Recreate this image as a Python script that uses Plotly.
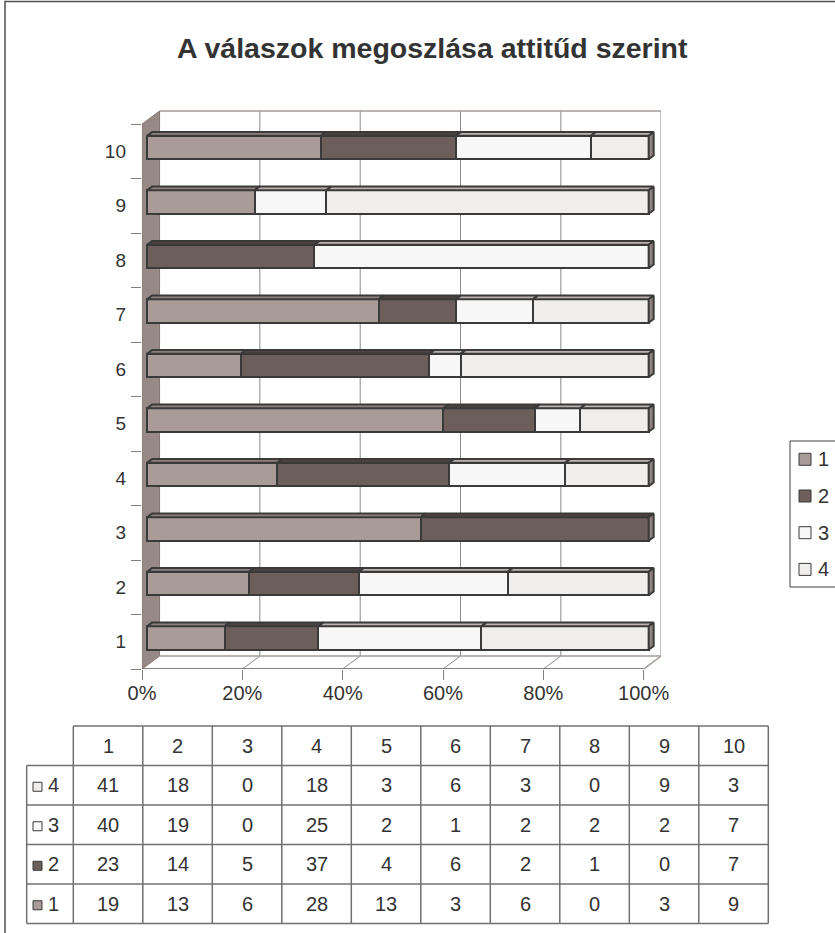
import numpy as np
import plotly.graph_objects as go

# ---- data ----
categories = ["1", "2", "3", "4", "5", "6", "7", "8", "9", "10"]
series_names = ["1", "2", "3", "4"]
series_1 = [19, 13, 6, 28, 13, 3, 6, 0, 3, 9]
series_2 = [23, 14, 5, 37, 4, 6, 2, 1, 0, 7]
series_3 = [40, 19, 0, 25, 2, 1, 2, 2, 2, 7]
series_4 = [41, 18, 0, 18, 3, 6, 3, 0, 9, 3]
percent_ticks = [0, 20, 40, 60, 80, 100]
chart_title = "A válaszok megoszlása attitűd szerint"

# ---- style ----
FONT = "Liberation Sans, Arial, sans-serif"
TEXT = "#333333"
EDGE = "#3a3a3a"
front_colors = ["#a89b98", "#6b5e5b", "#f7f7f7", "#efeeec"]
top_colors = ["#8d807d", "#4e4341", "#bdb3b0", "#bdb3b0"]
side_color = "#8f8380"
wall_color = "#978985"
frame_color = "#a39a97"
grid_color = "#8a8a8a"
FS = 19

W, H = 835, 933
L, R, T, B = 142, 661, 110, 669          # plot area (page pixels)
PX_PER_PCT = 5.016
PX_PER_CAT = 54.5
DX = 17.5 / PX_PER_PCT                     # depth offset in x units
DY = 13.0 / PX_PER_CAT                     # depth offset in category units
D_FRONT = 0.2857                           # depth of bar front faces
D_THICK = 0.2857                           # bar thickness in depth
BAR_W = 0.43


def proj(p, c, d):
    """Oblique projection of (percent, category, depth) into axis units."""
    return p + (d - D_FRONT) * DX, c + (d - D_FRONT) * DY


def px(x):
    return x / W


def py(y):
    return 1 - y / H


x_lo = proj(0, 0, 0)[0] - 0.01
x_hi = x_lo + (R - L) / PX_PER_PCT
y_lo = proj(0, 0.5, 0)[1]
y_hi = y_lo + (B - T) / PX_PER_CAT

cat_pos = np.arange(1, len(categories) + 1, dtype=float)
counts = np.array([series_1, series_2, series_3, series_4], dtype=float)
shares = counts / counts.sum(axis=0) * 100
ends = np.cumsum(shares, axis=0)
starts = ends - shares

fig = go.Figure()

# front faces of the stacked bars
for i, name in enumerate(series_names):
    fig.add_trace(go.Bar(
        y=cat_pos, x=shares[i], base=starts[i], orientation="h", width=BAR_W,
        name=name, marker=dict(color=front_colors[i], line=dict(color=EDGE, width=2)),
        showlegend=False, hoverinfo="skip",
    ))

# top faces of every segment
for i in range(len(series_names)):
    xs, ys = [], []
    for j, c in enumerate(cat_pos):
        if shares[i, j] <= 0:
            continue
        a, b = starts[i, j], ends[i, j]
        top = c + BAR_W / 2
        pts = [(a, top, D_FRONT), (b, top, D_FRONT),
               (b, top, D_FRONT + D_THICK), (a, top, D_FRONT + D_THICK)]
        for p_, c_, d_ in pts + [pts[0]]:
            X, Y = proj(p_, c_, d_)
            xs.append(X)
            ys.append(Y)
        xs.append(None)
        ys.append(None)
    fig.add_trace(go.Scatter(x=xs, y=ys, mode="lines", fill="toself",
                             fillcolor=top_colors[i], line=dict(color=EDGE, width=2),
                             showlegend=False, hoverinfo="skip"))

# right-hand end faces
xs, ys = [], []
for j, c in enumerate(cat_pos):
    e = ends[-1, j]
    lo, hi = c - BAR_W / 2, c + BAR_W / 2
    pts = [(e, lo, D_FRONT), (e, hi, D_FRONT),
           (e, hi, D_FRONT + D_THICK), (e, lo, D_FRONT + D_THICK)]
    for p_, c_, d_ in pts + [pts[0]]:
        X, Y = proj(p_, c_, d_)
        xs.append(X)
        ys.append(Y)
    xs.append(None)
    ys.append(None)
fig.add_trace(go.Scatter(x=xs, y=ys, mode="lines", fill="toself", fillcolor=side_color,
                         line=dict(color=EDGE, width=2), showlegend=False, hoverinfo="skip"))

shapes = []


def path(points):
    s = "M " + " L ".join(f"{x:.4f},{y:.4f}" for x, y in points) + " Z"
    return s


c_lo, c_hi = 0.5, len(categories) + 0.5

# back wall
bw = [proj(0, c_lo, 1), proj(100, c_lo, 1), proj(100, c_hi, 1), proj(0, c_hi, 1)]
shapes.append(dict(type="path", xref="x", yref="y", path=path(bw),
                   fillcolor="white", line=dict(width=0), layer="below"))
# left side wall
lw = [proj(0, c_lo, 0), proj(0, c_hi, 0), proj(0, c_hi, 1), proj(0, c_lo, 1)]
shapes.append(dict(type="path", xref="x", yref="y", path=path(lw),
                   fillcolor=wall_color, line=dict(color="#857773", width=1), layer="below"))
# grid on back wall and floor
for p in percent_ticks[1:-1]:
    for a, b in [(proj(p, c_lo, 1), proj(p, c_hi, 1)), (proj(p, c_lo, 1), proj(p, c_lo, 0))]:
        shapes.append(dict(type="line", xref="x", yref="y", x0=a[0], y0=a[1], x1=b[0], y1=b[1],
                           line=dict(color=grid_color, width=1), layer="below"))
# frame edges of the box
for a, b, col in [
    (proj(0, c_hi, 1), proj(100, c_hi, 1), frame_color),
    (proj(100, c_lo, 1), proj(100, c_hi, 1), frame_color),
    (proj(0, c_lo, 1), proj(100, c_lo, 1), frame_color),
    (proj(100, c_lo, 0), proj(100, c_lo, 1), frame_color),
    (proj(0, c_lo, 0), proj(100, c_lo, 0), "#5a5a5a"),
]:
    shapes.append(dict(type="line", xref="x", yref="y", x0=a[0], y0=a[1], x1=b[0], y1=b[1],
                       line=dict(color=col, width=1.5), layer="below"))

annotations = []


def label(text, x, y, size=FS, xanchor="center", bold=False):
    annotations.append(dict(
        text=f"<b>{text}</b>" if bold else text, x=px(x), y=py(y),
        xref="paper", yref="paper", showarrow=False, xanchor=xanchor, yanchor="middle",
        font=dict(family=FONT, size=size, color=TEXT)))


# title
label(chart_title, 432, 48, size=28.5, bold=True)

# ---- data table below the chart ----
tbl_left, tbl_lab_r, col_w = 26.7, 73.3, 69.5
tbl_top, row_h = 726, 39.5
n_rows = len(series_names) + 1
tbl_right = tbl_lab_r + col_w * len(categories)
tbl_bot = tbl_top + row_h * n_rows
line_col = "#707070"


def pline(x0, y0, x1, y1):
    shapes.append(dict(type="line", xref="paper", yref="paper", x0=px(x0), y0=py(y0),
                       x1=px(x1), y1=py(y1), line=dict(color=line_col, width=1.5)))


pline(tbl_lab_r, tbl_top, tbl_right, tbl_top)
for r in range(1, n_rows + 1):
    y = tbl_top + r * row_h
    pline(tbl_left, y, tbl_right, y)
pline(tbl_left, tbl_top + row_h, tbl_left, tbl_bot)
for k in range(len(categories) + 1):
    x = tbl_lab_r + k * col_w
    pline(x, tbl_top, x, tbl_bot)

for k, cat in enumerate(categories):
    label(cat, tbl_lab_r + (k + 0.5) * col_w, tbl_top + 0.5 * row_h, size=20)

for r, i in enumerate(reversed(range(len(series_names)))):
    yc = tbl_top + (r + 1.5) * row_h
    shapes.append(dict(type="rect", xref="paper", yref="paper", x0=px(33), x1=px(42),
                       y0=py(yc - 3), y1=py(yc + 6), fillcolor=front_colors[i],
                       line=dict(color=EDGE, width=1)))
    label(series_names[i], 46, yc, size=20, xanchor="left")
    for k in range(len(categories)):
        label(str(int(counts[i, k])), tbl_lab_r + (k + 0.5) * col_w, yc, size=20)

# ---- legend ----
leg_l, leg_t, leg_b, leg_step = 790, 441, 587, 36.7
shapes.append(dict(type="rect", xref="paper", yref="paper", x0=px(leg_l), x1=px(leg_l + 90),
                   y0=py(leg_t), y1=py(leg_b), fillcolor="white",
                   line=dict(color="#404040", width=1)))
for i, name in enumerate(series_names):
    yc = 459.3 + i * leg_step
    shapes.append(dict(type="rect", xref="paper", yref="paper", x0=px(799), x1=px(811),
                       y0=py(yc - 6), y1=py(yc + 6), fillcolor=front_colors[i],
                       line=dict(color=EDGE, width=1)))
    label(name, 816, yc, size=20, xanchor="left")

# outer chart frame
shapes.append(dict(type="rect", xref="paper", yref="paper", x0=px(5), x1=px(W + 20),
                   y0=py(1.5), y1=py(H + 20), line=dict(color="#505050", width=1.5)))

fig.update_layout(
    width=W, height=H,
    margin=dict(l=0, r=0, t=0, b=0, autoexpand=False),
    paper_bgcolor="white", plot_bgcolor="rgba(0,0,0,0)",
    barmode="overlay", bargap=0, showlegend=False,
    shapes=shapes, annotations=annotations,
    font=dict(family=FONT, size=FS, color=TEXT),
    xaxis=dict(
        domain=[L / W, R / W], range=[x_lo, x_hi], showgrid=False, zeroline=False,
        showline=False, tickmode="array",
        tickvals=[proj(p, 0, 0)[0] for p in percent_ticks],
        ticktext=[f"{p}%" for p in percent_ticks],
        ticks="outside", ticklen=10, tickwidth=1, tickcolor="#808080",
        ticklabelstandoff=-4,
        tickfont=dict(family=FONT, size=20, color=TEXT), fixedrange=True,
    ),
    yaxis=dict(
        domain=[1 - B / H, 1 - T / H], range=[y_lo, y_hi], showgrid=False, zeroline=False,
        showline=False, tickmode="array",
        tickvals=[proj(0, c, 0)[1] for c in cat_pos], ticktext=categories,
        ticks="", ticklabelstandoff=15,
        minor=dict(tickmode="array",
                   tickvals=[proj(0, c, 0)[1] for c in np.arange(c_lo, c_hi + 0.5, 1.0)],
                   ticks="outside", ticklen=10, tickcolor="#808080", tickwidth=1,
                   showgrid=False),
        tickfont=dict(family=FONT, size=FS, color=TEXT), fixedrange=True,
    ),
)

fig.write_html("out.html")
